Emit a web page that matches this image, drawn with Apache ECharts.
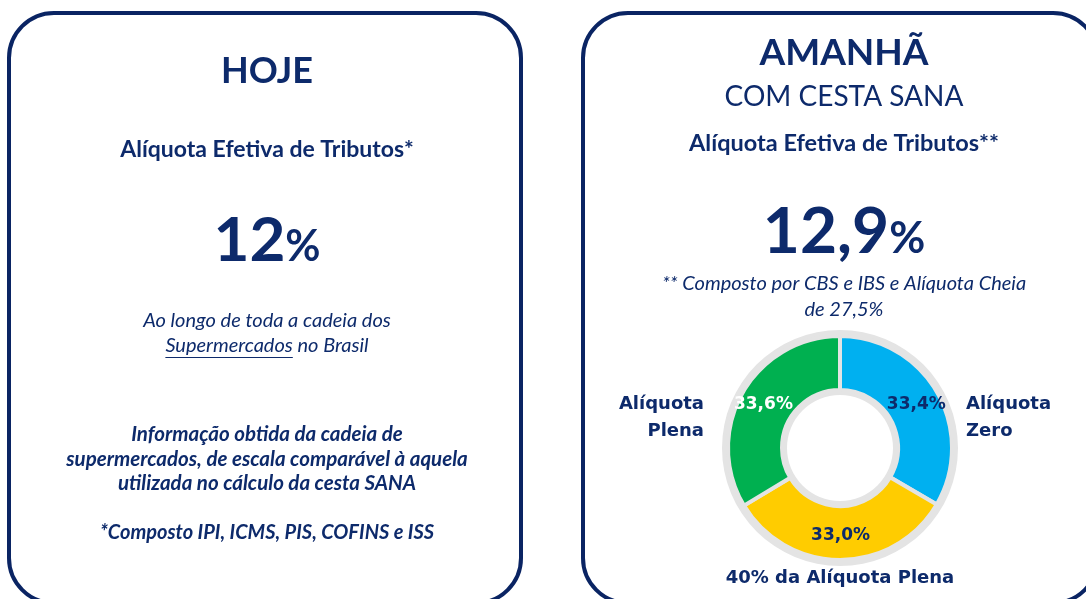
<!DOCTYPE html>
<html>
<head>
<meta charset="utf-8">
<script src="https://cdn.jsdelivr.net/npm/echarts@6/dist/echarts.min.js"></script>
<style>
  html, body { margin: 0; padding: 0; background: #fff; }
  #main { width: 1086px; height: 599px; }
</style>
</head>
<body>
<div id="main"></div>
<script>
// donut data
var categories = ['Alíquota Zero', '40% da Alíquota Plena', 'Alíquota Plena'];
var shares = [33.4, 33.0, 33.6];
var sliceColors = ['#00b0f0', '#ffcc00', '#00b050'];
var valueColors = ['#0d2a6b', '#0d2a6b', '#ffffff'];
// headline rates
var rateToday = 12;
var rateTomorrow = 12.9;

var navy = '#0d2a6b';
var mainFont = 'Lato, "Open Sans", sans-serif';
var donutFont = '"DejaVu Sans", sans-serif';

function br(n) {
    return n.toFixed(1).replace('.', ',');
}

function measure(txt, font) {
    var c = document.createElement('canvas').getContext('2d');
    c.font = font;
    return c.measureText(txt).width;
}

function txt(text, x, y, size, weight, style, extra) {
    var s = {
        text: text, x: x, y: y, fill: navy,
        fontSize: size, fontWeight: weight || 'normal', fontStyle: style || 'normal',
        fontFamily: mainFont, align: 'center', verticalAlign: 'middle'
    };
    if (extra) { for (var k in extra) s[k] = extra[k]; }
    return { type: 'text', silent: true, style: s };
}

var chart = echarts.init(document.getElementById('main'));

var lx = 267, rx = 844;
var g = [];
// boxes
g.push({ type: 'rect', silent: true, z: 1, shape: { x: 9, y: 13, width: 512, height: 590, r: 45 },
    style: { fill: 'none', stroke: '#0a2463', lineWidth: 4 } });
g.push({ type: 'rect', silent: true, z: 1, shape: { x: 583, y: 13, width: 515, height: 590, r: 45 },
    style: { fill: 'none', stroke: '#0a2463', lineWidth: 4 } });

// left panel
g.push(txt('HOJE', lx, 71, 36, 'bold'));
g.push(txt('Alíquota Efetiva de Tributos*', lx, 150, 23, 'bold'));
g.push(txt('{n|' + rateToday + '}{p|%}', lx, 241, 56, 'bold', 'normal', {
    rich: {
        n: { fontSize: 62, fontWeight: 'bold', fontFamily: mainFont, fill: navy, verticalAlign: 'bottom' },
        p: { fontSize: 43, fontWeight: 'bold', fontFamily: mainFont, fill: navy, verticalAlign: 'bottom', padding: [0, 0, 3, 0] }
    }
}));
var itFont = 'italic 20px Lato';
g.push(txt('Ao longo de toda a cadeia dos', lx, 321, 20, 'normal', 'italic'));
g.push(txt('Supermercados no Brasil', lx, 346, 20, 'normal', 'italic'));
var wAll = measure('Supermercados no Brasil', itFont);
var wSup = measure('Supermercados', itFont);
g.push({ type: 'line', silent: true, shape: { x1: lx - wAll / 2, y1: 357.5, x2: lx - wAll / 2 + wSup, y2: 357.5 },
    style: { stroke: navy, lineWidth: 1 } });
g.push(txt('Informação obtida da cadeia de', lx, 434, 20.5, 'bold', 'italic'));
g.push(txt('supermercados, de escala comparável à aquela', lx, 459, 20.5, 'bold', 'italic'));
g.push(txt('utilizada no cálculo da cesta SANA', lx, 483, 20.5, 'bold', 'italic'));
g.push(txt('*Composto IPI, ICMS, PIS, COFINS e ISS', lx, 533, 20, 'bold', 'italic'));

// right panel
g.push(txt('AMANHÃ', rx, 53, 37, 'bold'));
g.push(txt('COM CESTA SANA', rx, 97, 28, 'normal'));
g.push(txt('Alíquota Efetiva de Tributos**', rx, 143, 23.5, 'bold'));
g.push(txt('{n|' + br(rateTomorrow) + '}{p|%}', rx, 232, 60, 'bold', 'normal', {
    rich: {
        n: { fontSize: 64, fontWeight: 'bold', fontFamily: mainFont, fill: navy, verticalAlign: 'bottom' },
        p: { fontSize: 44, fontWeight: 'bold', fontFamily: mainFont, fill: navy, verticalAlign: 'bottom', padding: [0, 0, 3, 0] }
    }
}));
g.push(txt('** Composto por CBS e IBS e Alíquota Cheia', rx, 284, 20, 'normal', 'italic'));
g.push(txt('de 27,5%', rx, 310, 20, 'normal', 'italic'));

// donut backdrop ring
var cx = 840, cy = 448;
g.push({ type: 'ring', silent: true, z: 0, shape: { cx: cx, cy: cy, r: 118, r0: 53 },
    style: { fill: '#e4e4e4' } });

// outer category labels
function catText(name, x, y, align) {
    return txt(name, x, y, 18, 'bold', 'normal', { align: align, fontFamily: donutFont, lineHeight: 27 });
}
g.push(catText(categories[0].replace(' ', '\n'), 966, 418, 'left'));
g.push(catText(categories[2].replace(' ', '\n'), 704, 418, 'right'));
g.push(catText(categories[1], cx, 578, 'center'));

var option = {
    backgroundColor: '#ffffff',
    animation: false,
    graphic: g,
    series: [{
        type: 'pie',
        center: [cx, cy],
        radius: [58, 112],
        startAngle: 90,
        clockwise: true,
        z: 3,
        silent: true,
        itemStyle: { borderColor: '#e4e4e4', borderWidth: 4 },
        label: {
            show: true,
            position: 'inside',
            fontFamily: donutFont,
            fontWeight: 'bold',
            fontSize: 17,
            formatter: function (p) { return br(p.value) + '%'; }
        },
        labelLine: { show: false },
        data: categories.map(function (c, i) {
            return {
                name: c, value: shares[i],
                itemStyle: { color: sliceColors[i] },
                label: { color: valueColors[i] }
            };
        })
    }]
};
chart.setOption(option);
</script>
</body>
</html>
